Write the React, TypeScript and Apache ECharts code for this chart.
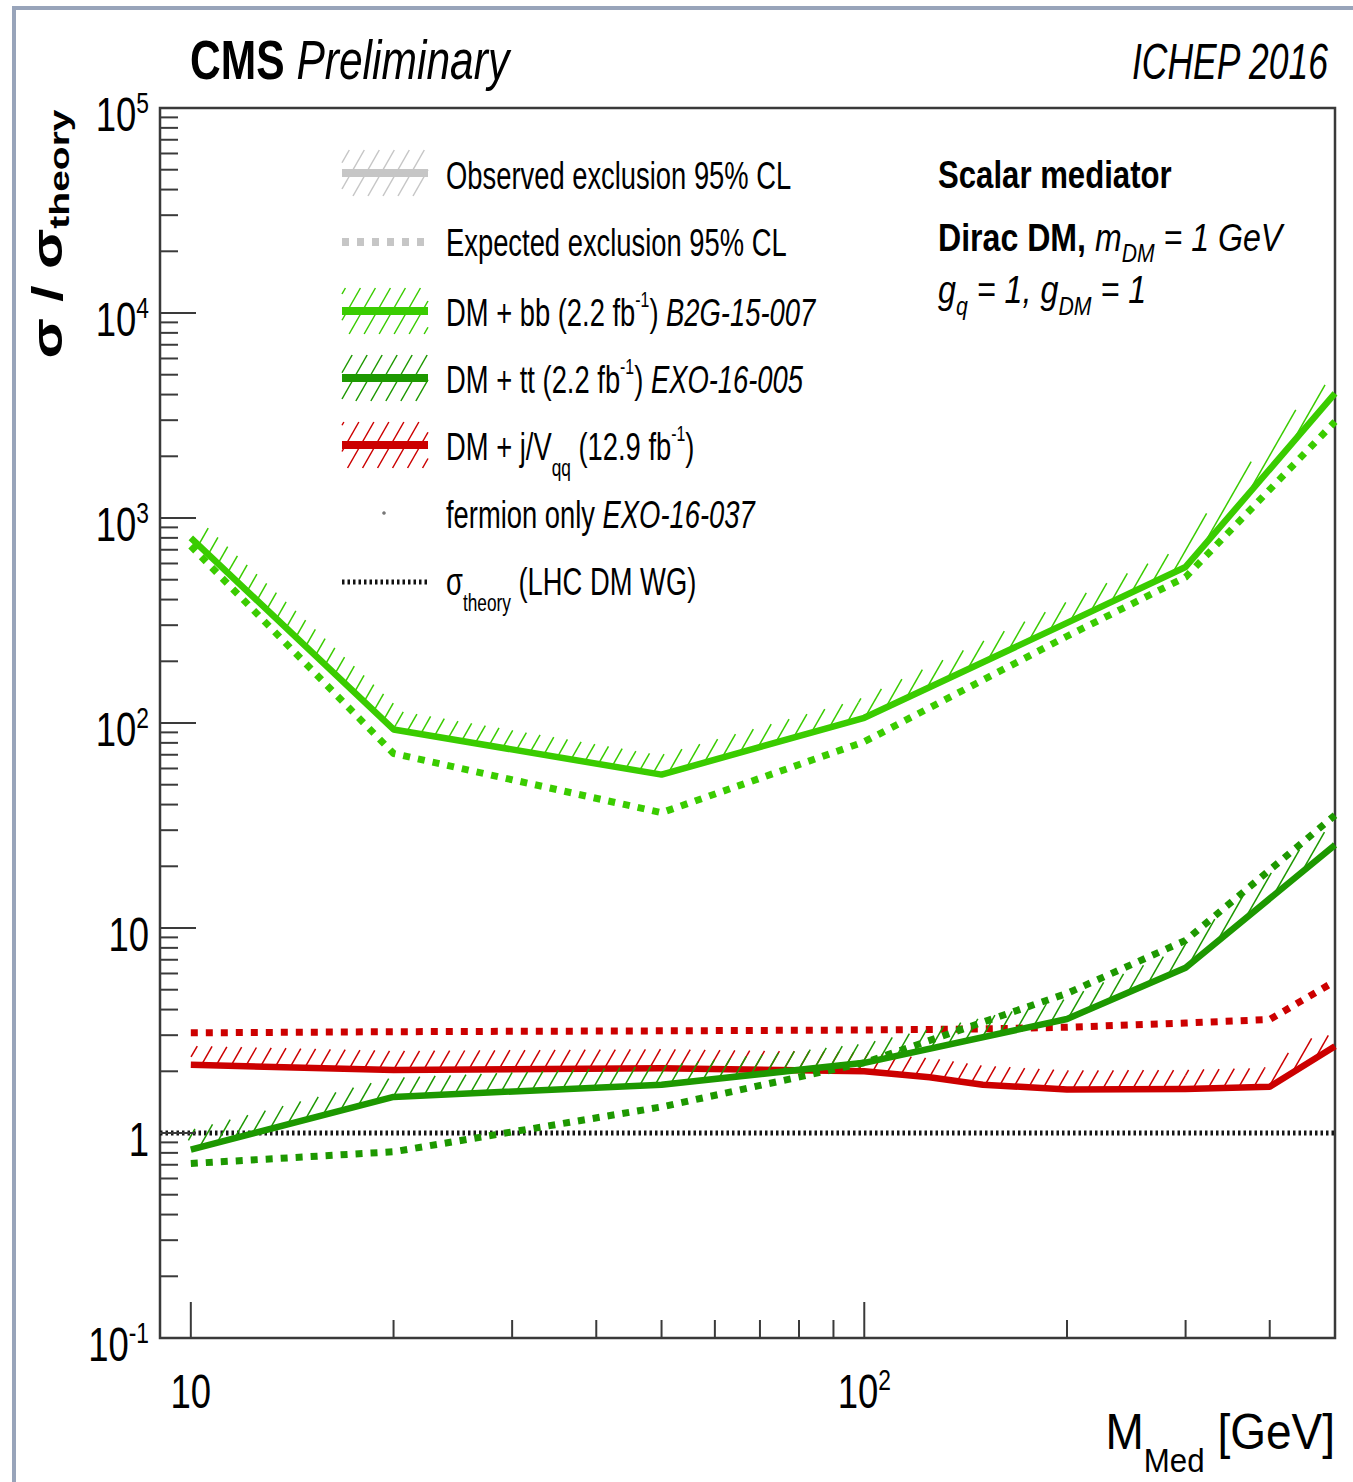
import React, { useEffect, useRef } from "react";
import * as echarts from "echarts";

// ---------- data ----------
const massRange = [9, 500];
const ratioRange = [0.1, 100000];

const bbMass = [10, 20, 50, 100, 200, 300, 500];
const bbObserved = [800, 93, 56, 106, 308, 577, 4050];
const bbExpected = [730, 71, 36.5, 81, 265, 515, 2950];

const ttMass = [10, 20, 50, 100, 200, 300, 500];
const ttObserved = [0.83, 1.5, 1.72, 2.2, 3.6, 6.4, 25.4];
const ttExpected = [0.71, 0.81, 1.34, 2.2, 4.8, 8.7, 35.5];

const jvMass = [10, 20, 50, 100, 125, 150, 200, 300, 400, 500];
const jvObserved = [2.15, 2.03, 2.07, 2.0, 1.87, 1.72, 1.63, 1.64, 1.68, 2.65];
const jvExpected = [3.08, 3.12, 3.15, 3.18, 3.2, 3.22, 3.28, 3.44, 3.58, 5.5];

const theoryMass = [9, 500];
const theoryRatio = [1, 1];

const xTickValues = [10, 20, 30, 40, 50, 60, 70, 80, 90, 100, 200, 300, 400, 500];
const yTickMantissas = [1, 2, 3, 4, 5, 6, 7, 8, 9];
const yTickDecades = [0.1, 1, 10, 100, 1000, 10000];
const yTickValues = [
  ...yTickDecades.flatMap((d) => yTickMantissas.map((m) => m * d)),
  100000,
];

// ---------- style ----------
const FONT = '"Liberation Sans", Arial, Helvetica, sans-serif';
const colBB = "#3acc00";
const colTT = "#1d9800";
const colRed = "#cc0000";
const colGray = "#c6c6c6";
const HATCH_SPACING = 15;
const HATCH_SLOPE = 1.75;
const HATCH_BAND = 19;

type P = [number, number];

function hatchPolygon(poly: P[], spacing: number, slope: number): number[][] {
  const f = (p: P) => p[0] + p[1] / slope;
  const fs = poly.map(f);
  const fmin = Math.min(...fs);
  const fmax = Math.max(...fs);
  const out: number[][] = [];
  for (let k = Math.ceil(fmin / spacing); k * spacing <= fmax; k++) {
    const c = k * spacing;
    const pts: P[] = [];
    for (let i = 0; i < poly.length; i++) {
      const j = (i + 1) % poly.length;
      const a = poly[i];
      const b = poly[j];
      const fa = fs[i];
      const fb = fs[j];
      if (fa === fb) continue;
      if ((fa - c) * (fb - c) > 0) continue;
      const u = (c - fa) / (fb - fa);
      pts.push([a[0] + u * (b[0] - a[0]), a[1] + u * (b[1] - a[1])]);
    }
    if (pts.length < 2) continue;
    pts.sort((p, q) => p[1] - q[1]);
    const p1 = pts[0];
    const p2 = pts[pts.length - 1];
    if (Math.hypot(p1[0] - p2[0], p1[1] - p2[1]) < 0.5) continue;
    out.push([p1[0], p1[1], p2[0], p2[1]]);
  }
  return out;
}

function bandQuads(pts: P[], d: number): P[][] {
  const n = pts.length;
  const normals: P[] = [];
  for (let i = 0; i < n - 1; i++) {
    const dx = pts[i + 1][0] - pts[i][0];
    const dy = pts[i + 1][1] - pts[i][1];
    const len = Math.hypot(dx, dy) || 1;
    normals.push([dy / len, -dx / len]);
  }
  const off: P[] = pts.map((p, i) => {
    let nx: number;
    let ny: number;
    if (i === 0) {
      [nx, ny] = normals[0];
    } else if (i === n - 1) {
      [nx, ny] = normals[n - 2];
    } else {
      const a = normals[i - 1];
      const b = normals[i];
      let mx = a[0] + b[0];
      let my = a[1] + b[1];
      const ml = Math.hypot(mx, my) || 1;
      mx /= ml;
      my /= ml;
      const dot = mx * b[0] + my * b[1];
      const s = 1 / Math.max(dot, 0.4);
      nx = mx * s;
      ny = my * s;
    }
    return [p[0] + nx * d, p[1] + ny * d];
  });
  const quads: P[][] = [];
  for (let i = 0; i < n - 1; i++) {
    quads.push([pts[i], pts[i + 1], off[i + 1], off[i]]);
  }
  return quads;
}

function hatchSeries(name: string, xs: number[], ys: number[], color: string, z: number) {
  return {
    type: "custom",
    name,
    z,
    clip: true,
    silent: true,
    data: xs.map((x, i) => [x, ys[i]]),
    encode: { x: 0, y: 1 },
    renderItem: (params: any, api: any) => {
      if (params.dataIndex !== 0) return null;
      const pts: P[] = xs.map((x, i) => api.coord([x, ys[i]]) as P);
      const segs: number[][] = [];
      for (const q of bandQuads(pts, HATCH_BAND)) {
        segs.push(...hatchPolygon(q, HATCH_SPACING, HATCH_SLOPE));
      }
      return {
        type: "group",
        children: segs.map((s) => ({
          type: "line",
          shape: { x1: s[0], y1: s[1], x2: s[2], y2: s[3] },
          style: { stroke: color, lineWidth: 1.5 },
        })),
      };
    },
  };
}

function lineSeries(
  name: string,
  xs: number[],
  ys: number[],
  color: string,
  width: number,
  dash: number[] | null,
  z: number
) {
  return {
    type: "line",
    name,
    z,
    silent: true,
    symbol: "none",
    data: xs.map((x, i) => [x, ys[i]]),
    lineStyle: {
      color,
      width,
      type: dash ? dash : "solid",
      cap: "butt",
      join: "round",
    },
  };
}

const isPow10 = (v: number) => {
  const l = Math.log10(v);
  return Math.abs(l - Math.round(l)) < 1e-6;
};

const powLabel = (v: number) => {
  if (!isPow10(v)) return "";
  const e = Math.round(Math.log10(v));
  if (e === 0) return "{b|1}";
  if (e === 1) return "{b|10}";
  return `{b|10}{s|${e}}`;
};

const axisRich = {
  b: { fontSize: 48, fontFamily: FONT, fill: "#000" },
  s: { fontSize: 30, fontFamily: FONT, fill: "#000", padding: [0, 0, 22, 0] },
};

function axisLabelEl(x: number, y: number, v: number, align: string) {
  return {
    type: "text",
    x,
    y,
    scaleX: 0.76,
    style: {
      text: powLabel(v),
      fill: "#000",
      fontFamily: FONT,
      fontSize: 48,
      align,
      verticalAlign: "middle",
      lineHeight: 56,
      rich: axisRich,
    },
  };
}

// legend helpers
const legendRich = {
  sup: { fontSize: 22, fontFamily: FONT, fill: "#000", padding: [0, 0, 26, 0] },
  sub: { fontSize: 24, fontFamily: FONT, fill: "#000", padding: [40, 0, 0, 0] },
  it: { fontSize: 38, fontFamily: FONT, fontStyle: "italic", fill: "#000" },
};

function legendHatchBox(cy: number, color: string) {
  const x0 = 342;
  const x1 = 428;
  const poly: P[] = [
    [x0, cy - 23],
    [x1, cy - 23],
    [x1, cy + 23],
    [x0, cy + 23],
  ];
  return hatchPolygon(poly, HATCH_SPACING, HATCH_SLOPE).map((s) => ({
    type: "line",
    shape: { x1: s[0], y1: s[1], x2: s[2], y2: s[3] },
    style: { stroke: color, lineWidth: 1.5 },
  }));
}

function legendLine(cy: number, color: string, width: number, dash?: number[]) {
  return {
    type: "line",
    shape: { x1: 342, y1: cy, x2: 428, y2: cy },
    style: { stroke: color, lineWidth: width, lineDash: dash || null, lineCap: "butt" },
  };
}

function legendText(cy: number, text: string) {
  return {
    type: "text",
    x: 446,
    y: cy,
    scaleX: 0.72,
    style: {
      text,
      fill: "#000",
      fontFamily: FONT,
      fontSize: 38,
      align: "left",
      verticalAlign: "middle",
      lineHeight: 50,
      rich: legendRich,
    },
  };
}

const boxRich = {
  bd: { fontSize: 38, fontFamily: FONT, fontWeight: "bold", fill: "#000" },
  it: { fontSize: 38, fontFamily: FONT, fontStyle: "italic", fill: "#000" },
  itsub: { fontSize: 25, fontFamily: FONT, fontStyle: "italic", fill: "#000", padding: [32, 0, 0, 0] },
};

function boxText(cy: number, text: string, sx: number) {
  return {
    type: "text",
    x: 938,
    y: cy,
    scaleX: sx,
    style: {
      text,
      fill: "#000",
      fontFamily: FONT,
      fontSize: 38,
      align: "left",
      verticalAlign: "middle",
      lineHeight: 50,
      rich: boxRich,
    },
  };
}

function buildOption() {
  const graphics: any[] = [
    {
      type: "rect",
      shape: { x: 14, y: 8, width: 1400, height: 1500 },
      style: { fill: "none", stroke: "#98a4ba", lineWidth: 4 },
      z: 100,
    },
    // titles
    {
      type: "text",
      x: 190,
      y: 60,
      scaleX: 0.76,
      style: {
        text: "{cms|CMS} {pre|Preliminary}",
        fill: "#000",
        fontFamily: FONT,
        fontSize: 56,
        align: "left",
        verticalAlign: "middle",
        rich: {
          cms: { fontSize: 56, fontFamily: FONT, fontWeight: "bold", fill: "#000" },
          pre: { fontSize: 56, fontFamily: FONT, fontStyle: "italic", fill: "#000" },
        },
      },
    },
    {
      type: "text",
      x: 1328,
      y: 62,
      scaleX: 0.71,
      style: {
        text: "ICHEP 2016",
        fill: "#000",
        fontFamily: FONT,
        fontSize: 50,
        fontStyle: "italic",
        align: "right",
        verticalAlign: "middle",
      },
    },
    // model text
    boxText(175, "{bd|Scalar mediator}", 0.82),
    boxText(237, "{bd|Dirac DM,} {it|m}{itsub|DM}{it| = 1 GeV}", 0.845),
    boxText(290, "{it|g}{itsub|q}{it| = 1, g}{itsub|DM}{it| = 1}", 0.85),
    // axis titles
    {
      type: "text",
      x: 47,
      y: 234,
      rotation: Math.PI / 2,
      scaleY: 0.72,
      style: {
        text: "{s|σ / σ}{t|theory}",
        fill: "#000",
        fontFamily: FONT,
        fontSize: 59,
        align: "center",
        verticalAlign: "middle",
        lineHeight: 64,
        rich: {
          s: { fontSize: 59, fontFamily: FONT, fontWeight: "bold", fill: "#000" },
          t: { fontSize: 39, fontFamily: FONT, fontWeight: "bold", fill: "#000", padding: [34, 0, 0, 0] },
        },
      },
    },
    {
      type: "text",
      x: 1335,
      y: 1432,
      scaleX: 0.92,
      style: {
        text: "M{sub|Med} [GeV]",
        fill: "#000",
        fontFamily: FONT,
        fontSize: 50,
        align: "right",
        verticalAlign: "middle",
        lineHeight: 60,
        rich: {
          sub: { fontSize: 34, fontFamily: FONT, fill: "#000", padding: [56, 0, 0, 0] },
        },
      },
    },
    // legend
    ...legendHatchBox(173, colGray),
    legendLine(173, colGray, 8),
    legendText(176, "Observed exclusion 95% CL"),
    legendLine(242, colGray, 8, [7, 8]),
    legendText(243, "Expected exclusion 95% CL"),
    ...legendHatchBox(311, colBB),
    legendLine(311, colBB, 8),
    legendText(313, "DM + bb (2.2 fb{sup|-1}) {it|B2G-15-007}"),
    ...legendHatchBox(378, colTT),
    legendLine(378, colTT, 8),
    legendText(380, "DM + tt (2.2 fb{sup|-1}) {it|EXO-16-005}"),
    ...legendHatchBox(445, colRed),
    legendLine(445, colRed, 8),
    legendText(447, "DM + j/V{sub|qq} (12.9 fb{sup|-1})"),
    { type: "circle", shape: { cx: 384, cy: 513, r: 1.8 }, style: { fill: "#777" } },
    legendText(515, "fermion only {it|EXO-16-037}"),
    legendLine(582, "#111", 5, [2.5, 3]),
    legendText(582, "σ{sub|theory} (LHC DM WG)"),
  ];

  return {
    animation: false,
    backgroundColor: "#ffffff",
    grid: {
      left: 160,
      top: 108,
      width: 1175,
      height: 1230,
      show: true,
      borderColor: "#3a3a3a",
      borderWidth: 2.5,
      backgroundColor: "transparent",
    },
    xAxis: {
      type: "log",
      logBase: 10,
      min: massRange[0],
      max: massRange[1],
      axisLine: { show: false },
      axisTick: { show: false },
      splitLine: { show: false },
      axisLabel: { show: false },
    },
    yAxis: {
      type: "log",
      logBase: 10,
      min: ratioRange[0],
      max: ratioRange[1],
      splitNumber: 6,
      axisLine: { show: false },
      axisTick: { show: false },
      splitLine: { show: false },
      axisLabel: { show: false },
    },
    graphic: graphics,
    series: [
      lineSeries("theory", theoryMass, theoryRatio, "#151515", 5, [2.5, 3], 1),
      hatchSeries("jv hatch", jvMass, jvObserved, colRed, 2),
      lineSeries("jv expected", jvMass, jvExpected, colRed, 7, [7, 8], 3),
      lineSeries("jv observed", jvMass, jvObserved, colRed, 6.5, null, 4),
      hatchSeries("tt hatch", ttMass, ttObserved, colTT, 5),
      lineSeries("tt expected", ttMass, ttExpected, colTT, 7, [7, 8], 6),
      lineSeries("tt observed", ttMass, ttObserved, colTT, 6.5, null, 7),
      hatchSeries("bb hatch", bbMass, bbObserved, colBB, 8),
      lineSeries("bb expected", bbMass, bbExpected, colBB, 7, [7, 8], 9),
      lineSeries("bb observed", bbMass, bbObserved, colBB, 6.5, null, 10),
      {
        type: "custom",
        name: "x ticks",
        z: 20,
        silent: true,
        data: xTickValues.map((v) => [v, ratioRange[0]]),
        encode: { x: 0, y: 1 },
        renderItem: (params: any, api: any) => {
          const v = xTickValues[params.dataIndex];
          const p = api.coord([v, ratioRange[0]]);
          const major = isPow10(v);
          const children: any[] = [
            {
              type: "line",
              shape: { x1: p[0], y1: p[1], x2: p[0], y2: p[1] - (major ? 36 : 18) },
              style: { stroke: "#3a3a3a", lineWidth: 2 },
            },
          ];
          if (major) children.push(axisLabelEl(p[0], p[1] + 53, v, "center"));
          return { type: "group", children };
        },
      },
      {
        type: "custom",
        name: "y ticks",
        z: 20,
        silent: true,
        data: yTickValues.map((v) => [massRange[0], v]),
        encode: { x: 0, y: 1 },
        renderItem: (params: any, api: any) => {
          const v = yTickValues[params.dataIndex];
          const p = api.coord([massRange[0], v]);
          const major = isPow10(v);
          const children: any[] = [
            {
              type: "line",
              shape: { x1: p[0], y1: p[1], x2: p[0] + (major ? 36 : 18), y2: p[1] },
              style: { stroke: "#3a3a3a", lineWidth: 2 },
            },
          ];
          if (major) children.push(axisLabelEl(p[0] - 11, p[1] + 6, v, "right"));
          return { type: "group", children };
        },
      },
    ],
  };
}

export default function App() {
  const ref = useRef<HTMLDivElement>(null);
  useEffect(() => {
    if (!ref.current) return;
    const chart = echarts.init(ref.current, undefined, { renderer: "svg" });
    chart.setOption(buildOption() as any);
    return () => chart.dispose();
  }, []);
  return (
    <div
      ref={ref}
      style={{ position: "absolute", left: 0, top: 0, width: 1353, height: 1482, background: "#fff" }}
    />
  );
}
